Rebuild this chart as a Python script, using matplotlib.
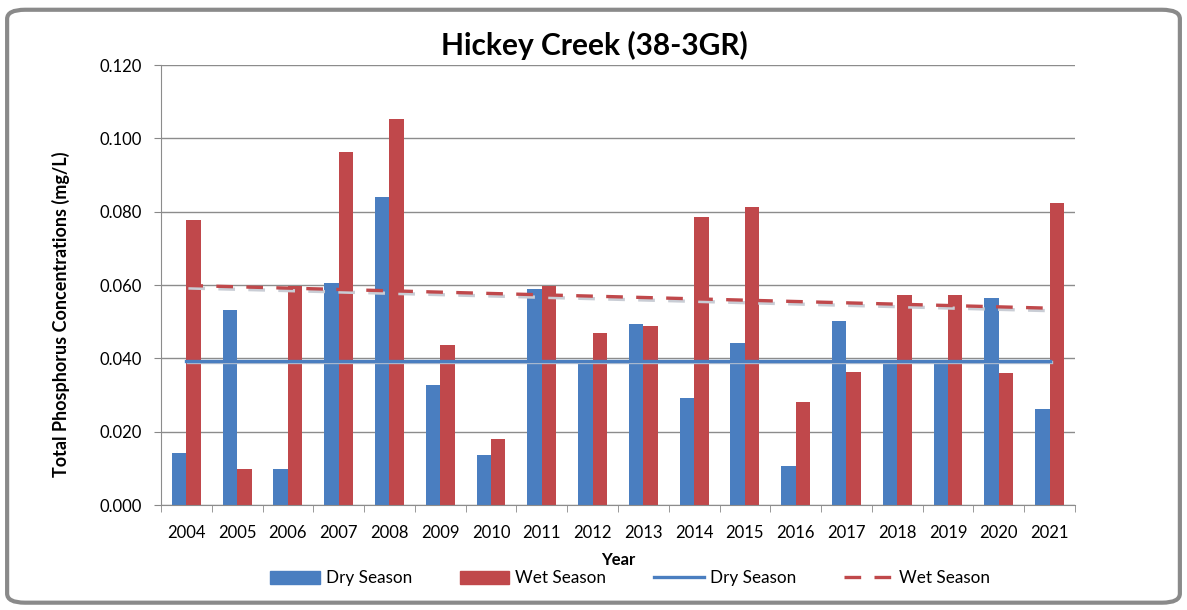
import numpy as np
import matplotlib
matplotlib.use("Agg")
import matplotlib.pyplot as plt
from matplotlib.patches import FancyBboxPatch
from matplotlib.lines import Line2D
from matplotlib.patches import Patch

plt.rcParams["font.family"] = ["Lato", "DejaVu Sans"]

years = ["2004", "2005", "2006", "2007", "2008", "2009", "2010", "2011", "2012",
         "2013", "2014", "2015", "2016", "2017", "2018", "2019", "2020", "2021"]
dry = [0.0141, 0.0532, 0.0098, 0.0605, 0.0841, 0.0327, 0.0136, 0.0590, 0.0395,
       0.0495, 0.0292, 0.0441, 0.0106, 0.0503, 0.0385, 0.0395, 0.0564, 0.0261]
wet = [0.0777, 0.0098, 0.0597, 0.0963, 0.1053, 0.0436, 0.0180, 0.0597, 0.0468,
       0.0488, 0.0785, 0.0812, 0.0282, 0.0364, 0.0574, 0.0574, 0.0359, 0.0823]
# trend line end points (first year, last year)
dry_trend = [0.0394, 0.0394]
wet_trend = [0.0599, 0.0537]

blue = "#4A7EC0"
red = "#C0484B"

fig = plt.figure(figsize=(11.87, 6.10), dpi=100)
ax = fig.add_axes([0.1356, 0.172, 0.770, 0.7213])

x = np.arange(len(years))
w = 0.285
ax.bar(x - w / 2, dry, width=w, color=blue, zorder=2)
ax.bar(x + w / 2, wet, width=w, color=red, zorder=2)

tx = [x[0], x[-1]]
# faint shadows under trend lines
ax.plot([t + 0.03 for t in tx], [v - 0.0005 for v in dry_trend], color="#b9c3d1",
        lw=2.4, zorder=3)
ax.plot([t + 0.04 for t in tx], [v - 0.0007 for v in wet_trend], color="#c9cdd5",
        lw=2.4, dashes=(5, 4), dash_capstyle="butt", zorder=3)
ax.plot(tx, dry_trend, color=blue, lw=2.4, zorder=4)
ax.plot(tx, wet_trend, color=red, lw=2.4, dashes=(5, 4), dash_capstyle="butt",
        zorder=4)

ax.set_xlim(-0.5, len(years) - 0.5)
ax.set_ylim(0, 0.120)
ax.set_yticks(np.arange(0, 0.1201, 0.020))
ax.set_yticklabels([f"{v:.3f}" for v in np.arange(0, 0.1201, 0.020)], fontsize=12)
ax.set_xticks(x)
ax.set_xticklabels(years, fontsize=12)
ax.set_xticks(np.arange(-0.5, len(years)), minor=True)
ax.tick_params(axis="x", which="major", length=0, pad=14)
ax.tick_params(axis="x", which="minor", length=5, color="#888888")
ax.tick_params(axis="y", length=5, color="#888888", pad=9)
ax.grid(axis="y", color="#8c8c8c", lw=1, zorder=0)
for s in ["top", "right"]:
    ax.spines[s].set_visible(False)
for s in ["left", "bottom"]:
    ax.spines[s].set_color("#8c8c8c")

ax.set_xlabel("Year", fontsize=12, fontweight="bold", labelpad=8)
ax.set_ylabel("Total Phosphorus Concentrations (mg/L)", fontsize=13,
              fontweight="bold")
ax.yaxis.set_label_coords(-0.099, 0.434)
fig.text(0.501, 0.926, "Hickey Creek (38-3GR)", fontsize=21.5, fontweight="bold",
         ha="center", va="center")

handles = [Patch(color=blue), Patch(color=red),
           Line2D([], [], color=blue, lw=2.4),
           Line2D([], [], color=red, lw=2.4, dashes=(5, 4))]
labels = ["Dry Season", "Wet Season", "Dry Season", "Wet Season"]
fig.legend(handles, labels, loc="center", bbox_to_anchor=(0.531, 0.052), ncol=4,
           frameon=False, fontsize=12.3, handlelength=2.9, handleheight=0.8,
           columnspacing=2.8, handletextpad=0.35)

frame = FancyBboxPatch((0.006, 0.012), 0.988, 0.972,
                       boxstyle="round,pad=0,rounding_size=0.015",
                       transform=fig.transFigure, fill=False,
                       edgecolor="#8a8a8a", lw=3)
fig.patches.append(frame)

fig.savefig("out.png", dpi=100)
